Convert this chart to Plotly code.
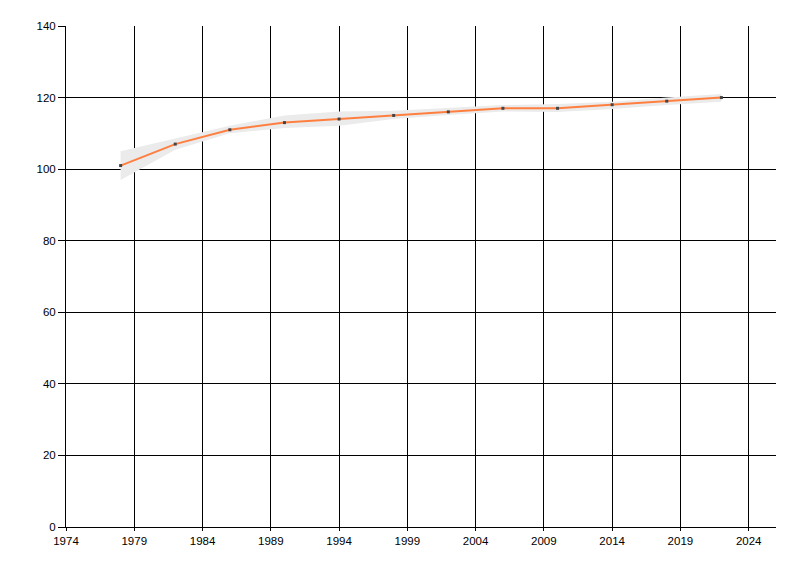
import plotly.graph_objects as go

years = [1978, 1982, 1986, 1990, 1994, 1998, 2002, 2006, 2010, 2014, 2018, 2022]
values = [101, 107, 111, 113, 114, 115, 116, 117, 117, 118, 119, 120]
upper = [105, 108.6, 112.1, 115.0, 116.1, 116.3, 117.1, 117.9, 118.2, 118.8, 120.0, 121.0]
lower = [97, 105.4, 110.0, 111.5, 112.1, 114.0, 115.1, 116.1, 116.0, 116.8, 117.9, 118.8]

x_ticks = [1974, 1979, 1984, 1989, 1994, 1999, 2004, 2009, 2014, 2019, 2024]
y_ticks = [0, 20, 40, 60, 80, 100, 120, 140]

fig = go.Figure()
fig.add_trace(go.Scatter(x=years, y=upper, mode="lines", line=dict(width=0),
                         showlegend=False, hoverinfo="skip"))
fig.add_trace(go.Scatter(x=years, y=lower, mode="lines", line=dict(width=0),
                         fill="tonexty", fillcolor="#ebebeb",
                         showlegend=False, hoverinfo="skip"))
fig.add_trace(go.Scatter(x=years, y=values, mode="lines+markers",
                         line=dict(color="#FF7F40", width=2),
                         marker=dict(color="#444444", size=3, symbol="square"),
                         showlegend=False))

font = dict(family="Liberation Sans, Arial, sans-serif", size=11.5, color="#000000")
fig.update_layout(
    width=784, height=560,
    margin=dict(l=58, r=16, t=18, b=41, autoexpand=False),
    paper_bgcolor="white", plot_bgcolor="white",
    font=font,
    xaxis=dict(range=[1974, 2026], tickmode="array", tickvals=x_ticks,
               ticktext=[str(t) for t in x_ticks],
               showgrid=True, gridcolor="#000000", gridwidth=1,
               showline=True, linecolor="#000000", linewidth=1,
               ticks="outside", ticklen=3, tickcolor="#000000",
               zeroline=False),
    yaxis=dict(range=[0, 140], tickmode="array", tickvals=y_ticks,
               showgrid=True, gridcolor="#000000", gridwidth=1,
               showline=True, linecolor="#000000", linewidth=1,
               ticks="outside", ticklen=7, tickcolor="#000000",
               zeroline=False),
)

fig.write_html("out.html")
